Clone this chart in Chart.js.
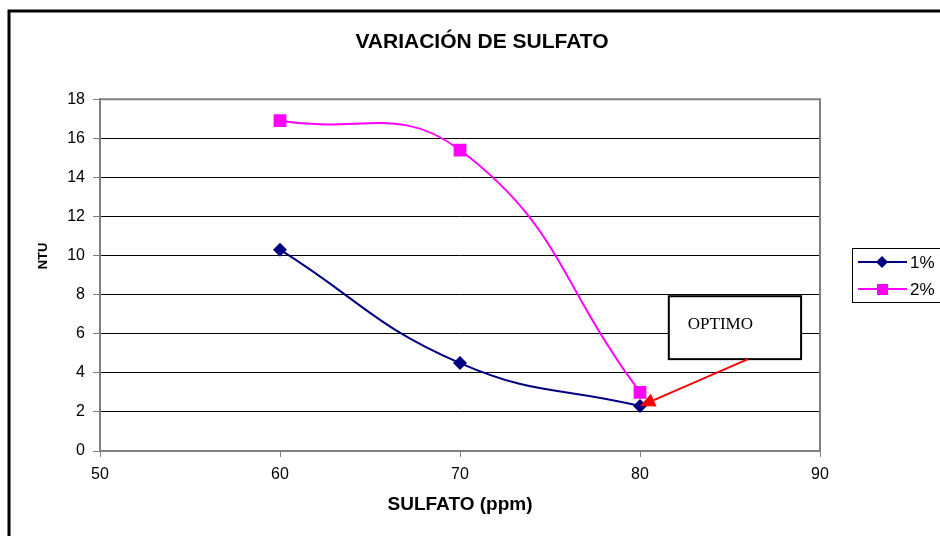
<!DOCTYPE html>
<html>
<head>
<meta charset="utf-8">
<script src="https://cdn.jsdelivr.net/npm/chart.js@4.4.1/dist/chart.umd.min.js"></script>
<style>
  html, body { margin: 0; padding: 0; background: #fff; }
</style>
</head>
<body>
<canvas id="chart" width="940" height="536"></canvas>
<script>
// values
const sulfato = [60, 70, 80];
const ntu1 = [10.3, 4.5, 2.3];
const ntu2 = [16.9, 15.4, 3.0];
const seriesLabels = ['1%', '2%'];
const seriesColors = ['#000080', '#FF00FF'];
const chartTitle = 'VARIACIÓN DE SULFATO';
const xTitle = 'SULFATO (ppm)';
const yTitle = 'NTU';
const noteText = 'OPTIMO';
// note box and arrow, in data units
const noteBox = { x0: 81.6, x1: 88.95, yTop: 7.92, yBottom: 4.7 };
const arrowTail = { x: 86.0, y: 4.7 };
const arrowTip = { x: 80.0, y: 2.3 };

Chart.defaults.font.family = '"Liberation Sans", Arial, sans-serif';
Chart.defaults.color = '#000';

const toPoints = (xs, ys) => xs.map((x, i) => ({ x: x, y: ys[i] }));

// outer frame, plot border and the y title
const framePlugin = {
  id: 'frame',
  beforeDraw(chart) {
    const ctx = chart.ctx;
    ctx.save();
    ctx.fillStyle = '#fff';
    ctx.fillRect(0, 0, chart.width, chart.height);
    ctx.strokeStyle = '#000';
    ctx.lineWidth = 3;
    ctx.beginPath();
    ctx.moveTo(9, chart.height + 5);
    ctx.lineTo(9, 11);
    ctx.lineTo(chart.width + 5, 11);
    ctx.stroke();
    ctx.restore();
  },
  beforeDatasetsDraw(chart) {
    const { ctx, chartArea: a } = chart;
    ctx.save();
    ctx.strokeStyle = '#808080';
    ctx.lineWidth = 2;
    ctx.beginPath();
    ctx.moveTo(a.left, a.top);
    ctx.lineTo(a.right, a.top);
    ctx.lineTo(a.right, a.bottom);
    ctx.stroke();
    // y axis title sits a bit above the middle, as in the sheet
    ctx.translate(43, 256);
    ctx.rotate(-Math.PI / 2);
    ctx.fillStyle = '#000';
    ctx.font = 'bold 13px "Liberation Sans", Arial, sans-serif';
    ctx.textAlign = 'center';
    ctx.textBaseline = 'middle';
    ctx.fillText(yTitle, 0, 0);
    ctx.restore();
  }
};

// legend drawn as line + marker, like the spreadsheet one
const legendPlugin = {
  id: 'sideLegend',
  afterDraw(chart) {
    const ctx = chart.ctx;
    ctx.save();
    ctx.strokeStyle = '#000';
    ctx.lineWidth = 1;
    ctx.strokeRect(852.5, 248.5, 100, 54);
    chart.data.datasets.forEach((ds, i) => {
      const y = 262 + i * 27;
      ctx.strokeStyle = ds.borderColor;
      ctx.lineWidth = 2;
      ctx.beginPath();
      ctx.moveTo(858, y);
      ctx.lineTo(907, y);
      ctx.stroke();
      ctx.fillStyle = ds.backgroundColor;
      ctx.beginPath();
      if (ds.pointStyle === 'rectRot') {
        ctx.moveTo(882, y - 6);
        ctx.lineTo(888, y);
        ctx.lineTo(882, y + 6);
        ctx.lineTo(876, y);
      } else {
        ctx.rect(877, y - 5, 11, 11);
      }
      ctx.fill();
      ctx.fillStyle = '#000';
      ctx.font = '17px "Liberation Sans", Arial, sans-serif';
      ctx.textBaseline = 'middle';
      ctx.fillText(ds.label, 910, y + 1);
    });
    ctx.restore();
  }
};

// "OPTIMO" note with red arrow
const notePlugin = {
  id: 'note',
  afterDatasetsDraw(chart) {
    const { ctx, scales: { x, y } } = chart;
    const bx0 = x.getPixelForValue(noteBox.x0);
    const bx1 = x.getPixelForValue(noteBox.x1);
    const by0 = y.getPixelForValue(noteBox.yTop);
    const by1 = y.getPixelForValue(noteBox.yBottom);
    ctx.save();
    ctx.fillStyle = '#fff';
    ctx.fillRect(bx0, by0, bx1 - bx0, by1 - by0);
    ctx.strokeStyle = '#000';
    ctx.lineWidth = 2;
    ctx.strokeRect(bx0, by0, bx1 - bx0, by1 - by0);
    ctx.fillStyle = '#000';
    ctx.font = '17px "Liberation Serif", "Times New Roman", serif';
    ctx.textBaseline = 'middle';
    ctx.fillText(noteText, bx0 + 19, by0 + 28);

    const tx = x.getPixelForValue(arrowTail.x), ty = y.getPixelForValue(arrowTail.y);
    const hx = x.getPixelForValue(arrowTip.x), hy = y.getPixelForValue(arrowTip.y);
    const ang = Math.atan2(hy - ty, hx - tx);
    const headLen = 15, headW = 7;
    const bx = hx - headLen * Math.cos(ang), byy = hy - headLen * Math.sin(ang);
    ctx.strokeStyle = '#FF0000';
    ctx.lineWidth = 2;
    ctx.beginPath();
    ctx.moveTo(tx, ty);
    ctx.lineTo(bx, byy);
    ctx.stroke();
    ctx.fillStyle = '#FF0000';
    ctx.beginPath();
    ctx.moveTo(hx, hy);
    ctx.lineTo(bx + headW * Math.sin(ang), byy - headW * Math.cos(ang));
    ctx.lineTo(bx - headW * Math.sin(ang), byy + headW * Math.cos(ang));
    ctx.closePath();
    ctx.fill();
    ctx.restore();
  }
};

new Chart(document.getElementById('chart'), {
  type: 'line',
  data: {
    datasets: [
      {
        label: seriesLabels[0],
        data: toPoints(sulfato, ntu1),
        borderColor: seriesColors[0],
        backgroundColor: seriesColors[0],
        borderWidth: 2,
        pointStyle: 'rectRot',
        pointRadius: 7,
        pointBorderWidth: 0,
        tension: 0.45
      },
      {
        label: seriesLabels[1],
        data: toPoints(sulfato, ntu2),
        borderColor: seriesColors[1],
        backgroundColor: seriesColors[1],
        borderWidth: 2,
        pointStyle: 'rect',
        pointRadius: 9,
        pointBorderWidth: 0,
        tension: 0.45
      }
    ]
  },
  options: {
    responsive: false,
    animation: false,
    layout: { padding: { left: 24, right: 0, top: 0, bottom: 0 } },
    plugins: {
      legend: { display: false },
      tooltip: { enabled: false },
      title: {
        display: true,
        text: chartTitle,
        font: { size: 21, weight: 'bold' },
        color: '#000',
        padding: { top: 30, bottom: 44 }
      }
    },
    scales: {
      x: {
        type: 'linear',
        min: 50,
        max: 90,
        ticks: { stepSize: 10, font: { size: 16 }, padding: 8, color: '#000' },
        grid: { drawOnChartArea: false, tickLength: 6, color: '#808080', lineWidth: 1 },
        border: { color: '#808080', width: 2 },
        title: { display: true, text: xTitle, font: { size: 19, weight: 'bold' }, padding: 20, color: '#000' },
        afterFit(scale) { scale.height = 85; }
      },
      y: {
        min: 0,
        max: 18,
        ticks: { stepSize: 2, font: { size: 16 }, padding: 8, color: '#000' },
        grid: { color: '#000', lineWidth: 1, tickLength: 7, tickColor: '#808080' },
        border: { color: '#808080', width: 2 },
        afterFit(scale) { scale.width = 76; }
      },
      // empty right-hand gutter that leaves room for the legend
      gutter: {
        type: 'linear',
        position: 'right',
        min: 0,
        max: 18,
        ticks: { display: false },
        grid: { display: false },
        border: { display: false },
        afterFit(scale) { scale.width = 120; }
      }
    }
  },
  plugins: [framePlugin, legendPlugin, notePlugin]
});
</script>
</body>
</html>
